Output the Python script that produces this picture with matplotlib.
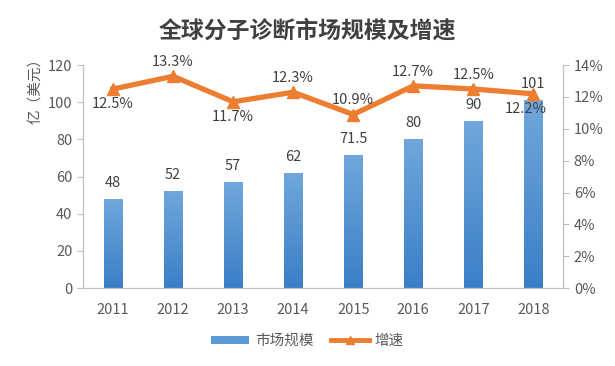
import numpy as np
import matplotlib.pyplot as plt
from matplotlib.colors import LinearSegmentedColormap
from matplotlib.lines import Line2D
from matplotlib.patches import Patch

plt.rcParams['font.family'] = ['Noto Sans CJK SC', 'DejaVu Sans']

years = ['2011', '2012', '2013', '2014', '2015', '2016', '2017', '2018']
market = [48, 52, 57, 62, 71.5, 80, 90, 101]
growth = [12.5, 13.3, 11.7, 12.3, 10.9, 12.7, 12.5, 12.2]
market_labels = ['48', '52', '57', '62', '71.5', '80', '90', '101']
growth_pos = ['below', 'above', 'below', 'above', 'above', 'above', 'above', 'below']

text_c = '#595959'
fig = plt.figure(figsize=(6.15, 3.66), dpi=100)
ax = fig.add_axes([0.135, 0.213, 0.781, 0.609])
ax2 = ax.twinx()

x = np.arange(len(years))
bars = ax.bar(x, market, width=0.3, color='#5b9bd5', zorder=2)

# vertical gradient inside bars
cmap = LinearSegmentedColormap.from_list('g', ['#3a7fc6', '#70a7dc'])
grad = np.linspace(0, 1, 256).reshape(-1, 1)
for b in bars:
    im = ax.imshow(grad, cmap=cmap, aspect='auto', origin='lower',
                   extent=[b.get_x(), b.get_x() + b.get_width(), 0, b.get_height()],
                   zorder=2.5)
    im.set_clip_path(b)

for xi, v, lab in zip(x, market, market_labels):
    ax.text(xi, v + 5, lab, ha='center', va='bottom', fontsize=10.5, color='#404040')

ax.set_xlim(-0.5, len(years) - 0.5)
ax.set_ylim(0, 120)
ax.set_yticks(range(0, 121, 20))
ax.set_xticks(x)
ax.set_xticklabels(years)

ax2.plot(x, growth, color='#ed7d31', lw=3.8, marker='^', markersize=8, zorder=3)
ax2.set_ylim(0, 14)
ax2.set_yticks(range(0, 15, 2))
ax2.set_yticklabels([f'{t}%' for t in range(0, 15, 2)])
for xi, g, pos in zip(x, growth, growth_pos):
    if pos == 'above':
        ax2.text(xi, g + 0.45, f'{g}%', ha='center', va='bottom', fontsize=10.5, color='#404040')
    else:
        dx = -0.12 if xi == len(years) - 1 else 0
        ax2.text(xi + dx, g - 0.5, f'{g}%', ha='center', va='top', fontsize=10.5, color='#404040')

for a in (ax, ax2):
    for s in a.spines.values():
        s.set_color('#bfbfbf')
    a.spines['top'].set_visible(False)
    a.tick_params(colors=text_c, labelsize=10.5, length=4, color='#bfbfbf')
ax.tick_params(axis='x', length=0, pad=11)

fig.text(0.5, 0.915, '全球分子诊断市场规模及增速', ha='center', va='center',
         fontsize=16.5, fontweight='bold', color='#404040')
fig.text(0.057, 0.76, '亿（美元）', rotation=90, ha='center', va='center',
         fontsize=10.5, color=text_c)

handles = [Patch(facecolor='#5b9bd5'),
           Line2D([0], [0], color='#ed7d31', lw=3.5, marker='^', markersize=6)]
fig.legend(handles, ['市场规模', '增速'], loc='center', bbox_to_anchor=(0.5, 0.068),
           ncol=2, frameon=False, fontsize=10.5, labelcolor=text_c,
           handlelength=2.6, handleheight=0.5, columnspacing=1.2, handletextpad=0.4)

fig.savefig('out.png', dpi=100)
